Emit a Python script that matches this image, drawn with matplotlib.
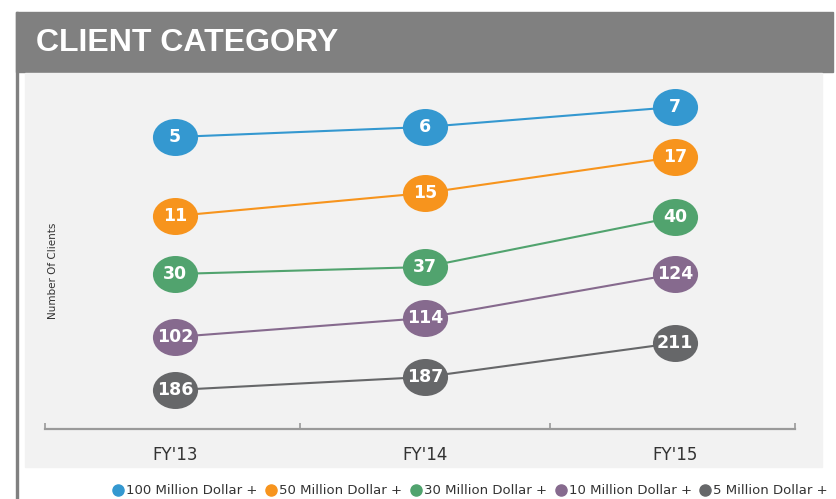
import matplotlib
matplotlib.use("Agg")
import matplotlib.pyplot as plt
from matplotlib.patches import Rectangle
from matplotlib.lines import Line2D
from matplotlib.path import Path
from matplotlib.transforms import Affine2D
import numpy as np

# fiscal years on the x axis
years = ["FY'13", "FY'14", "FY'15"]

# number of clients per category (shown inside the markers)
clients_100m = [5, 6, 7]
clients_50m = [11, 15, 17]
clients_30m = [30, 37, 40]
clients_10m = [102, 114, 124]
clients_5m = [186, 187, 211]

# vertical placement of each series on the (unlabelled) chart axis
level_100m = [29.2, 30.2, 32.2]
level_50m = [21.3, 23.6, 27.2]
level_30m = [15.5, 16.2, 21.2]
level_10m = [9.2, 11.1, 15.5]
level_5m = [3.9, 5.2, 8.6]

labels = ["100 Million Dollar +", "50 Million Dollar +", "30 Million Dollar +",
          "10 Million Dollar +", "5 Million Dollar +"]
colors = ["#3498d0", "#f7941d", "#51a36e", "#866a8e", "#666769"]

series = [
    (clients_100m, level_100m),
    (clients_50m, level_50m),
    (clients_30m, level_30m),
    (clients_10m, level_10m),
    (clients_5m, level_5m),
]

W, H = 837, 499
fig = plt.figure(figsize=(W / 100, H / 100), dpi=100)
fig.patch.set_facecolor("white")

def px(x0, y0, x1, y1):
    # pixel box (top-left origin) -> figure fraction rect
    return (x0 / W, 1 - y1 / H), (x1 - x0) / W, (y1 - y0) / H

# left frame line, header bar and light panel
(xy, w, h) = px(16, 12, 18.5, 499)
fig.add_artist(Rectangle(xy, w, h, transform=fig.transFigure, color="#808080", zorder=-5))
(xy, w, h) = px(16, 12, 833, 72)
fig.add_artist(Rectangle(xy, w, h, transform=fig.transFigure, color="#808080", zorder=-5))
(xy, w, h) = px(25, 73, 822, 467)
fig.add_artist(Rectangle(xy, w, h, transform=fig.transFigure, color="#f2f2f2", zorder=-5))

fig.text(36 / W, 1 - 43 / H, "CLIENT CATEGORY", color="white", fontsize=23,
         fontweight="bold", family="Liberation Sans", va="center", ha="left")

ax = fig.add_axes([45 / W, 70 / H, 750 / W, (429 - 80) / H])
ax.set_facecolor("none")

# ellipse marker (the original markers are wider than tall)
ellipse = Path.unit_circle().transformed(Affine2D().scale(1.22, 1.0))

x = np.arange(len(years))
for (vals, lev), c in zip(series, colors):
    ax.plot(x, lev, color=c, lw=1.5, marker=ellipse, markersize=32.5,
            markeredgewidth=0, zorder=2)
    for xi, yi, v in zip(x, lev, vals):
        ax.text(xi, yi, str(v), color="white", fontsize=12.5, fontweight="bold",
                ha="center", va="center", zorder=3)

ax.set_xlim(-0.52, 2.48)
ax.set_ylim(0, 34.9)
for s in ["top", "left", "right"]:
    ax.spines[s].set_visible(False)
ax.spines["bottom"].set_color("#9a9a9a")
ax.spines["bottom"].set_linewidth(1.6)
ax.set_yticks([])
ax.set_xticks(x)
ax.set_xticklabels(years, fontsize=12, color="#333333", family="DejaVu Sans")
ax.tick_params(axis="x", which="major", length=0, pad=12)
ax.set_xticks([-0.52, 0.5, 1.5, 2.48], minor=True)
ax.tick_params(axis="x", which="minor", direction="in", length=4, width=1.2,
               color="#9a9a9a")

fig.text(53 / W, 1 - 271 / H, "Number Of Clients", rotation=90, fontsize=7.5,
         color="#333333", ha="center", va="center")

handles = [Line2D([], [], marker="o", color=c, lw=0, markersize=8) for c in colors]
fig.legend(handles, labels, loc="center", bbox_to_anchor=(470 / W, 1 - 491 / H),
           ncol=5, frameon=False, fontsize=9.5, handletextpad=0.15,
           columnspacing=0.6, handlelength=0.9, labelcolor="#333333")

fig.savefig("out.png", dpi=100)
